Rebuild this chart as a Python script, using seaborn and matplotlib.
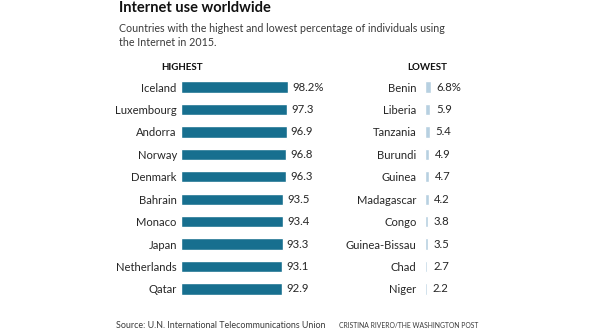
import matplotlib
matplotlib.use("Agg")
import matplotlib.pyplot as plt
import seaborn as sns
import pandas as pd

high_countries = ["Iceland", "Luxembourg", "Andorra", "Norway", "Denmark",
                  "Bahrain", "Monaco", "Japan", "Netherlands", "Qatar"]
high_values = [98.2, 97.3, 96.9, 96.8, 96.3, 93.5, 93.4, 93.3, 93.1, 92.9]
high_labels = ["98.2%", "97.3", "96.9", "96.8", "96.3", "93.5", "93.4", "93.3", "93.1", "92.9"]

low_countries = ["Benin", "Liberia", "Tanzania", "Burundi", "Guinea",
                 "Madagascar", "Congo", "Guinea-Bissau", "Chad", "Niger"]
low_values = [6.8, 5.9, 5.4, 4.9, 4.7, 4.2, 3.8, 3.5, 2.7, 2.2]
low_labels = ["6.8%", "5.9", "5.4", "4.9", "4.7", "4.2", "3.8", "3.5", "2.7", "2.2"]

sns.set_theme(style="white")
FONT = ["Lato", "DejaVu Sans"]
plt.rcParams["font.family"] = FONT

W, H = 600, 333
fig = plt.figure(figsize=(6, 3.33), dpi=100, facecolor="white")

def px_axes(x0, width, top, bottom):
    return fig.add_axes([x0 / W, 1 - bottom / H, width / W, (bottom - top) / H])

row_top, row_bot = 75.8, 300.2
axL = px_axes(181, 110, row_top, row_bot)
axR = px_axes(425, 20, row_top, row_bot)

dfH = pd.DataFrame({"country": high_countries, "value": high_values})
dfL = pd.DataFrame({"country": low_countries, "value": low_values})

sns.barplot(data=dfH, y="country", x="value", orient="h", color="#176f8f",
            saturation=1, width=0.5, ax=axL)
sns.barplot(data=dfL, y="country", x="value", orient="h", color="#b7d0e1",
            saturation=1, width=0.5, ax=axR)

txt_color = "#262626"
for ax, labels, xmax, pad, lpad in [(axL, high_labels, 101, 3, 3), (axR, low_labels, 22, 4, 6)]:
    ax.set_xlim(0, xmax)
    ax.set_ylim(9.5, -0.5)
    ax.set_xlabel("")
    ax.set_ylabel("")
    ax.set_xticks([])
    for s in ax.spines.values():
        s.set_visible(False)
    ax.tick_params(axis="y", length=0, pad=lpad, labelsize=8.1, labelcolor=txt_color)
    ax.patch.set_alpha(0)
    ax.bar_label(ax.containers[0], labels=labels, padding=pad, fontsize=8.2,
                 color=txt_color)

fig.text(119 / W, 1 - 8.5 / H, "Internet use worldwide", fontsize=10.5, fontweight="bold",
         color="#111111", va="center", ha="left")
fig.text(119 / W, 1 - 28 / H, "Countries with the highest and lowest percentage of individuals using",
         fontsize=7.7, color="#3a3a3a", va="center", ha="left")
fig.text(119 / W, 1 - 42 / H, "the Internet in 2015.",
         fontsize=7.7, color="#3a3a3a", va="center", ha="left")
fig.text(182 / W, 1 - 67 / H, "HIGHEST", fontsize=7, fontweight="bold",
         color="#111111", va="center", ha="center")
fig.text(427 / W, 1 - 67 / H, "LOWEST", fontsize=7, fontweight="bold",
         color="#111111", va="center", ha="center")
fig.text(116 / W, 1 - 326 / H, "Source: U.N. International Telecommunications Union",
         fontsize=6.4, color="#3a3a3a", va="center", ha="left")
fig.text(339 / W, 1 - 326 / H, "CRISTINA RIVERO/THE WASHINGTON POST",
         fontsize=4.9, color="#3a3a3a", va="center", ha="left")

fig.savefig("out.png", dpi=100, facecolor="white")
